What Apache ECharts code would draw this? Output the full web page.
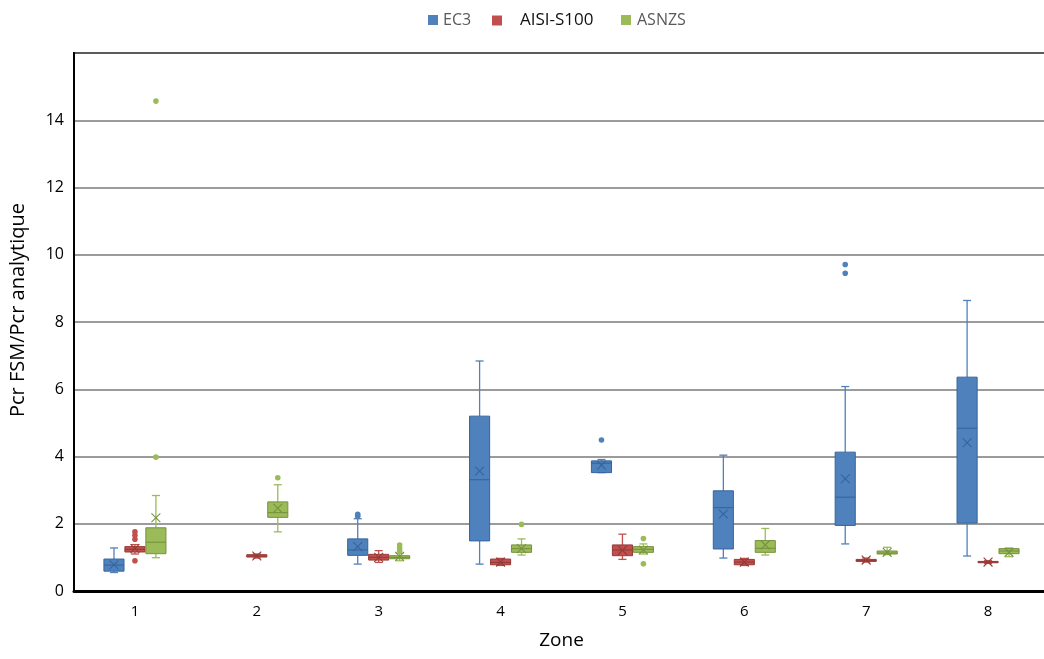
<!DOCTYPE html>
<html>
<head>
<meta charset="utf-8">
<script src="https://cdn.jsdelivr.net/npm/echarts@6/dist/echarts.min.js"></script>
<style>
  html, body { margin: 0; padding: 0; background: #fff; }
  #chart { width: 1044px; height: 659px; }
</style>
</head>
<body>
<div id="chart"></div>
<script>
// Zones on the category axis
const zones = ['1', '2', '3', '4', '5', '6', '7', '8'];
const yTicks = [0, 2, 4, 6, 8, 10, 12, 14, 16];

// Box statistics per zone: [min, Q1, median, Q3, max, mean]
const ec3Stats = [
  [0.55, 0.59, 0.77, 0.95, 1.28, 0.78],
  null,
  [0.80, 1.06, 1.22, 1.55, 2.15, 1.32],
  [0.80, 1.49, 3.31, 5.20, 6.84, 3.57],
  [3.52, 3.52, 3.80, 3.87, 3.91, 3.74],
  [0.98, 1.25, 2.48, 2.98, 4.04, 2.29],
  [1.40, 1.95, 2.79, 4.13, 6.08, 3.34],
  [1.04, 2.02, 4.84, 6.36, 8.64, 4.41]
];
const aisiStats = [
  [1.10, 1.16, 1.24, 1.32, 1.38, 1.26],
  [0.98, 1.01, 1.04, 1.08, 1.10, 1.04],
  [0.85, 0.92, 1.00, 1.09, 1.20, 1.00],
  [0.76, 0.78, 0.85, 0.95, 0.97, 0.86],
  [0.94, 1.05, 1.22, 1.37, 1.69, 1.21],
  [0.76, 0.78, 0.86, 0.94, 0.97, 0.86],
  [0.86, 0.88, 0.91, 0.94, 0.98, 0.92],
  [0.82, 0.84, 0.86, 0.88, 0.90, 0.86]
];
const asnzsStats = [
  [0.99, 1.11, 1.45, 1.88, 2.84, 2.18],
  [1.76, 2.19, 2.33, 2.65, 3.16, 2.46],
  [0.90, 0.96, 1.00, 1.05, 1.12, 1.03],
  [1.07, 1.15, 1.26, 1.37, 1.55, 1.26],
  [1.10, 1.15, 1.24, 1.32, 1.40, 1.22],
  [1.07, 1.15, 1.27, 1.50, 1.86, 1.37],
  [1.08, 1.10, 1.13, 1.19, 1.30, 1.15],
  [1.02, 1.11, 1.19, 1.26, 1.28, 1.15]
];

// Outliers: [zone index, value]
const ec3Outliers = [[2, 2.22], [2, 2.28], [4, 4.49], [6, 9.45], [6, 9.71]];
const aisiOutliers = [[0, 0.90], [0, 1.54], [0, 1.66], [0, 1.76]];
const asnzsOutliers = [[0, 3.98], [0, 14.57], [1, 3.37], [2, 1.19], [2, 1.27], [2, 1.37], [3, 1.98], [4, 0.81], [4, 1.56]];

const BOX_FRAC = 0.165;   // box width as a share of the zone band
const SHIFT = 0.172;      // horizontal shift between neighbouring boxes

const groups = [
  { name: 'EC3',       stats: ec3Stats,   outliers: ec3Outliers,   shift: -SHIFT, color: '#4f81bd', dark: '#35659d' },
  { name: 'AISI-S100', stats: aisiStats,  outliers: aisiOutliers,  shift: 0,      color: '#c0504d', dark: '#963a37' },
  { name: 'ASNZS',     stats: asnzsStats, outliers: asnzsOutliers, shift: SHIFT,  color: '#9bbb59', dark: '#76923c' }
];

function boxRenderer(g) {
  return function (params, api) {
    const cat = api.value(0);
    const band = api.size([1, 0])[0];
    const w = band * BOX_FRAC;
    const cx = api.coord([cat, 0])[0] + g.shift * band;
    const y = function (v) { return api.coord([cat, v])[1]; };
    const yMin = y(api.value(1)), yQ1 = y(api.value(2)), yMed = y(api.value(3));
    const yQ3 = y(api.value(4)), yMax = y(api.value(5)), yMean = y(api.value(6));
    const cap = w * 0.2;
    const m = w * 0.22;
    const thin = { stroke: g.color, lineWidth: 1.3 };
    const darkLine = { stroke: g.dark, lineWidth: 1.1 };
    return {
      type: 'group',
      children: [
        { type: 'line', shape: { x1: cx, y1: yQ3, x2: cx, y2: yMax }, style: thin },
        { type: 'line', shape: { x1: cx, y1: yQ1, x2: cx, y2: yMin }, style: thin },
        { type: 'line', shape: { x1: cx - cap, y1: yMax, x2: cx + cap, y2: yMax }, style: thin },
        { type: 'line', shape: { x1: cx - cap, y1: yMin, x2: cx + cap, y2: yMin }, style: thin },
        { type: 'rect', shape: { x: cx - w / 2, y: yQ3, width: w, height: Math.max(yQ1 - yQ3, 1) },
          style: { fill: g.color, stroke: g.dark, lineWidth: 1 } },
        { type: 'line', shape: { x1: cx - w / 2, y1: yMed, x2: cx + w / 2, y2: yMed }, style: darkLine },
        { type: 'line', shape: { x1: cx - m, y1: yMean - m, x2: cx + m, y2: yMean + m }, style: darkLine },
        { type: 'line', shape: { x1: cx - m, y1: yMean + m, x2: cx + m, y2: yMean - m }, style: darkLine }
      ]
    };
  };
}

function outlierRenderer(g) {
  return function (params, api) {
    const cat = api.value(0);
    const band = api.size([1, 0])[0];
    const p = api.coord([cat, api.value(1)]);
    return {
      type: 'circle',
      shape: { cx: p[0] + g.shift * band, cy: p[1], r: 2.8 },
      style: { fill: g.color }
    };
  };
}

const series = [];
groups.forEach(function (g) {
  const data = [];
  g.stats.forEach(function (s, i) { if (s) data.push([i].concat(s)); });
  series.push({
    name: g.name, type: 'custom', renderItem: boxRenderer(g),
    encode: { x: 0, y: [1, 2, 3, 4, 5] },
    itemStyle: { color: g.color }, data: data, z: 3
  });
  series.push({
    name: g.name, type: 'custom', renderItem: outlierRenderer(g),
    encode: { x: 0, y: 1 },
    itemStyle: { color: g.color }, data: g.outliers, z: 4
  });
});

const legendBase = {
  top: 7, icon: 'rect', itemWidth: 10, itemHeight: 10,
  selectedMode: false
};

const chart = echarts.init(document.getElementById('chart'));
chart.setOption({
  animation: false,
  backgroundColor: '#ffffff',
  textStyle: { fontFamily: 'Open Sans' },
  legend: [
    Object.assign({}, legendBase, { left: 423, data: ['EC3'],
      textStyle: { color: '#595959', fontSize: 16, fontFamily: 'Open Sans', padding: [0, 0, 0, 0] } }),
    Object.assign({}, legendBase, { left: 487, data: ['AISI-S100'],
      textStyle: { color: '#111', fontSize: 17, fontFamily: 'Open Sans', padding: [0, 0, 0, 13] } }),
    Object.assign({}, legendBase, { left: 616, data: ['ASNZS'],
      textStyle: { color: '#595959', fontSize: 16, fontFamily: 'Open Sans', padding: [0, 0, 0, 1] } })
  ],
  grid: {
    left: 74, right: -5, top: 53, bottom: 68,
    outerBoundsMode: 'none',
    show: true, borderColor: '#000', borderWidth: 2, backgroundColor: 'transparent'
  },
  xAxis: {
    type: 'category', data: zones, boundaryGap: true,
    name: 'Zone', nameLocation: 'middle', nameGap: 40,
    nameTextStyle: { fontSize: 19, color: '#000', fontFamily: 'Open Sans' },
    axisLine: { lineStyle: { color: '#000', width: 3 } },
    axisTick: { show: false },
    axisLabel: { fontSize: 15, color: '#000', margin: 13 },
    splitLine: { show: false }
  },
  yAxis: {
    type: 'value', min: 0, max: 16, interval: 2,
    name: 'Pcr FSM/Pcr analytique', nameLocation: 'middle', nameGap: 46, nameRotate: 90,
    nameTextStyle: { fontSize: 20, color: '#000', fontFamily: 'Open Sans', padding: [0, 0, 0, 24] },
    axisLine: { show: true, lineStyle: { color: '#000', width: 2 } },
    axisTick: { show: false },
    axisLabel: {
      fontSize: 16, color: '#000', margin: 10,
      formatter: function (v) { return yTicks.indexOf(v) >= 0 && v < 16 ? String(v) : ''; }
    },
    splitLine: { show: true, lineStyle: { color: '#7a7a7a', width: 1.5 } }
  },
  series: series
});
</script>
</body>
</html>
